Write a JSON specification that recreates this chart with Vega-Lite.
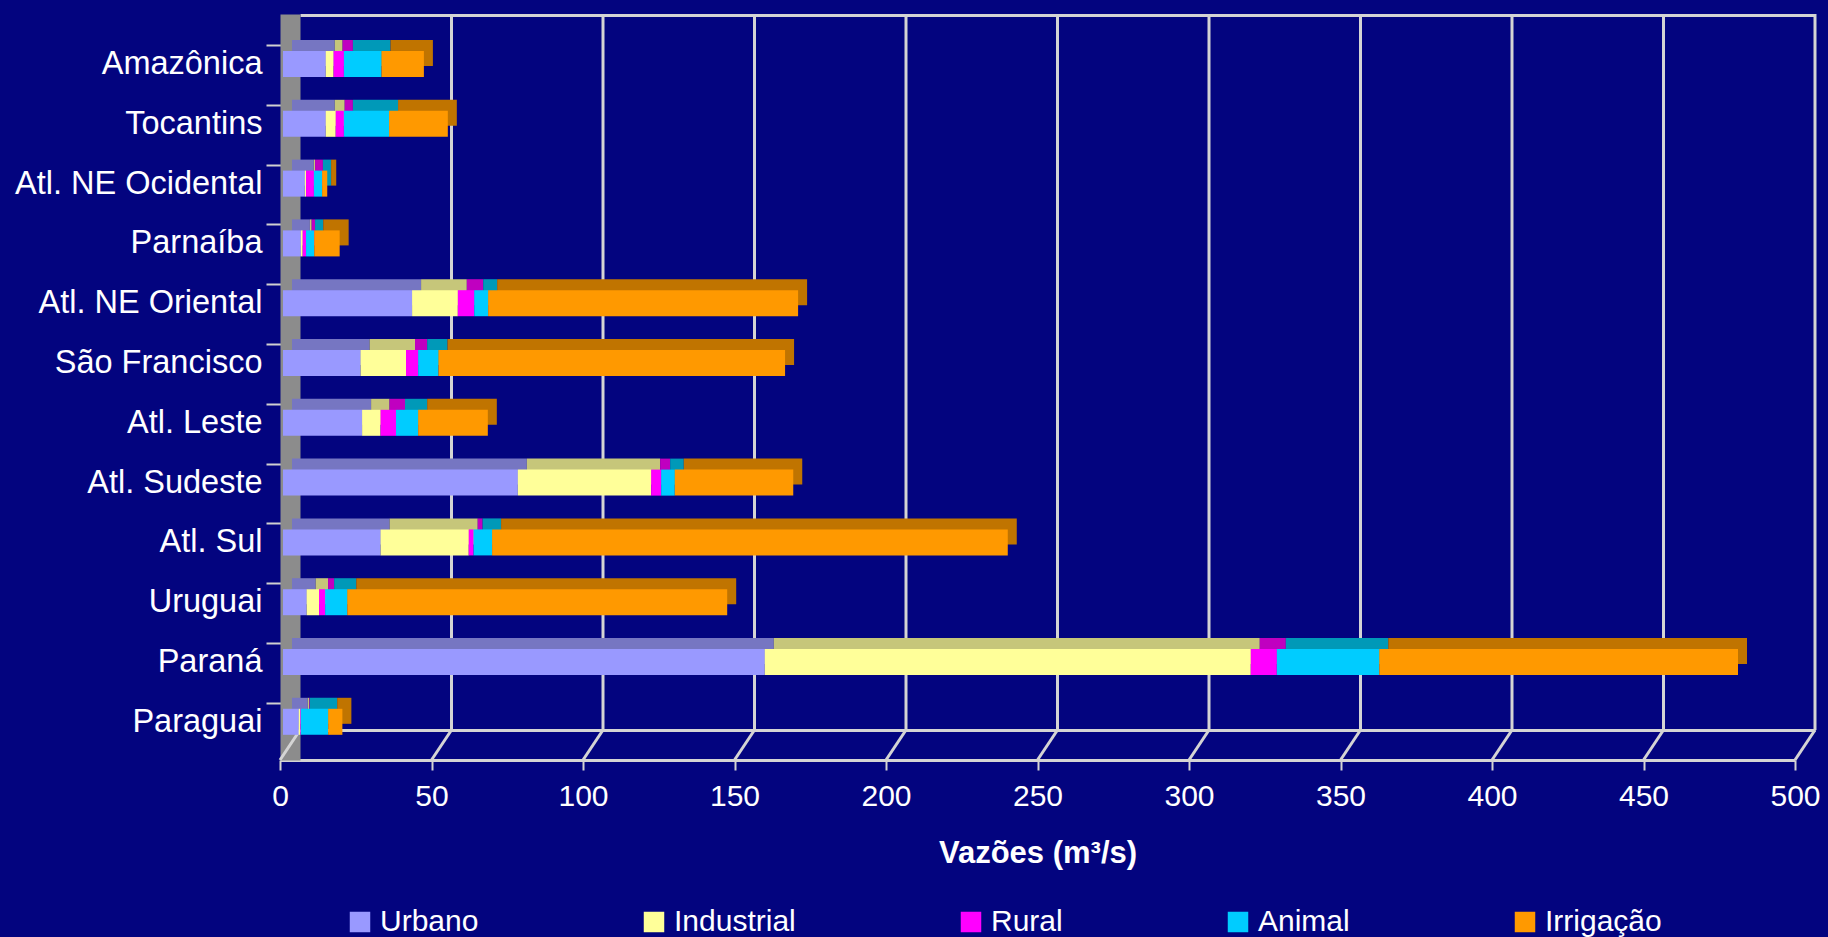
{
  "$schema": "https://vega.github.io/schema/vega-lite/v6.json",
  "width": 1515,
  "height": 746,
  "autosize": {"type": "none"},
  "padding": {"left": 280, "top": 14, "right": 33, "bottom": 177},
  "background": "#03047f",
  "config": {
    "view": {"stroke": null},
    "font": "Liberation Sans"
  },
  "datasets": {
    "grade": [{"v": 0}, {"v": 50}, {"v": 100}, {"v": 150}, {"v": 200}, {"v": 250}, {"v": 300}, {"v": 350}, {"v": 400}, {"v": 450}, {"v": 500}],
    "vazoes": [
      {"bacia": "Amazônica", "uso": "Urbano", "ordem": 1, "vazao": 14.1},
      {"bacia": "Amazônica", "uso": "Industrial", "ordem": 2, "vazao": 2.6},
      {"bacia": "Amazônica", "uso": "Rural", "ordem": 3, "vazao": 3.4},
      {"bacia": "Amazônica", "uso": "Animal", "ordem": 4, "vazao": 12.4},
      {"bacia": "Amazônica", "uso": "Irrigação", "ordem": 5, "vazao": 14.0},
      {"bacia": "Tocantins", "uso": "Urbano", "ordem": 1, "vazao": 14.1},
      {"bacia": "Tocantins", "uso": "Industrial", "ordem": 2, "vazao": 3.3},
      {"bacia": "Tocantins", "uso": "Rural", "ordem": 3, "vazao": 2.7},
      {"bacia": "Tocantins", "uso": "Animal", "ordem": 4, "vazao": 14.9},
      {"bacia": "Tocantins", "uso": "Irrigação", "ordem": 5, "vazao": 19.4},
      {"bacia": "Atl. NE Ocidental", "uso": "Urbano", "ordem": 1, "vazao": 7.2},
      {"bacia": "Atl. NE Ocidental", "uso": "Industrial", "ordem": 2, "vazao": 0.4},
      {"bacia": "Atl. NE Ocidental", "uso": "Rural", "ordem": 3, "vazao": 2.6},
      {"bacia": "Atl. NE Ocidental", "uso": "Animal", "ordem": 4, "vazao": 2.7},
      {"bacia": "Atl. NE Ocidental", "uso": "Irrigação", "ordem": 5, "vazao": 1.7},
      {"bacia": "Parnaíba", "uso": "Urbano", "ordem": 1, "vazao": 5.9},
      {"bacia": "Parnaíba", "uso": "Industrial", "ordem": 2, "vazao": 0.6},
      {"bacia": "Parnaíba", "uso": "Rural", "ordem": 3, "vazao": 1.1},
      {"bacia": "Parnaíba", "uso": "Animal", "ordem": 4, "vazao": 2.7},
      {"bacia": "Parnaíba", "uso": "Irrigação", "ordem": 5, "vazao": 8.4},
      {"bacia": "Atl. NE Oriental", "uso": "Urbano", "ordem": 1, "vazao": 42.6},
      {"bacia": "Atl. NE Oriental", "uso": "Industrial", "ordem": 2, "vazao": 15.1},
      {"bacia": "Atl. NE Oriental", "uso": "Rural", "ordem": 3, "vazao": 5.4},
      {"bacia": "Atl. NE Oriental", "uso": "Animal", "ordem": 4, "vazao": 4.6},
      {"bacia": "Atl. NE Oriental", "uso": "Irrigação", "ordem": 5, "vazao": 102.3},
      {"bacia": "São Francisco", "uso": "Urbano", "ordem": 1, "vazao": 25.6},
      {"bacia": "São Francisco", "uso": "Industrial", "ordem": 2, "vazao": 15.0},
      {"bacia": "São Francisco", "uso": "Rural", "ordem": 3, "vazao": 4.0},
      {"bacia": "São Francisco", "uso": "Animal", "ordem": 4, "vazao": 6.7},
      {"bacia": "São Francisco", "uso": "Irrigação", "ordem": 5, "vazao": 114.4},
      {"bacia": "Atl. Leste", "uso": "Urbano", "ordem": 1, "vazao": 26.1},
      {"bacia": "Atl. Leste", "uso": "Industrial", "ordem": 2, "vazao": 6.1},
      {"bacia": "Atl. Leste", "uso": "Rural", "ordem": 3, "vazao": 5.1},
      {"bacia": "Atl. Leste", "uso": "Animal", "ordem": 4, "vazao": 7.3},
      {"bacia": "Atl. Leste", "uso": "Irrigação", "ordem": 5, "vazao": 23.0},
      {"bacia": "Atl. Sudeste", "uso": "Urbano", "ordem": 1, "vazao": 77.5},
      {"bacia": "Atl. Sudeste", "uso": "Industrial", "ordem": 2, "vazao": 44.0},
      {"bacia": "Atl. Sudeste", "uso": "Rural", "ordem": 3, "vazao": 3.3},
      {"bacia": "Atl. Sudeste", "uso": "Animal", "ordem": 4, "vazao": 4.5},
      {"bacia": "Atl. Sudeste", "uso": "Irrigação", "ordem": 5, "vazao": 39.1},
      {"bacia": "Atl. Sul", "uso": "Urbano", "ordem": 1, "vazao": 32.2},
      {"bacia": "Atl. Sul", "uso": "Industrial", "ordem": 2, "vazao": 29.1},
      {"bacia": "Atl. Sul", "uso": "Rural", "ordem": 3, "vazao": 1.6},
      {"bacia": "Atl. Sul", "uso": "Animal", "ordem": 4, "vazao": 6.1},
      {"bacia": "Atl. Sul", "uso": "Irrigação", "ordem": 5, "vazao": 170.2},
      {"bacia": "Uruguai", "uso": "Urbano", "ordem": 1, "vazao": 7.8},
      {"bacia": "Uruguai", "uso": "Industrial", "ordem": 2, "vazao": 4.1},
      {"bacia": "Uruguai", "uso": "Rural", "ordem": 3, "vazao": 2.0},
      {"bacia": "Uruguai", "uso": "Animal", "ordem": 4, "vazao": 7.3},
      {"bacia": "Uruguai", "uso": "Irrigação", "ordem": 5, "vazao": 125.4},
      {"bacia": "Paraná", "uso": "Urbano", "ordem": 1, "vazao": 159.0},
      {"bacia": "Paraná", "uso": "Industrial", "ordem": 2, "vazao": 160.4},
      {"bacia": "Paraná", "uso": "Rural", "ordem": 3, "vazao": 8.6},
      {"bacia": "Paraná", "uso": "Animal", "ordem": 4, "vazao": 33.8},
      {"bacia": "Paraná", "uso": "Irrigação", "ordem": 5, "vazao": 118.4},
      {"bacia": "Paraguai", "uso": "Urbano", "ordem": 1, "vazao": 5.2},
      {"bacia": "Paraguai", "uso": "Industrial", "ordem": 2, "vazao": 0.5},
      {"bacia": "Paraguai", "uso": "Rural", "ordem": 3, "vazao": 0.2},
      {"bacia": "Paraguai", "uso": "Animal", "ordem": 4, "vazao": 9.0},
      {"bacia": "Paraguai", "uso": "Irrigação", "ordem": 5, "vazao": 4.7}
    ]
  },
  "layer": [
    {
      "data": {"name": "grade"},
      "transform": [{"filter": "datum.v > 0"}],
      "mark": {"type": "rule", "color": "#d4d4d4", "strokeWidth": 3, "xOffset": 20, "y2Offset": -30},
      "encoding": {
        "x": {
          "field": "v",
          "type": "quantitative",
          "scale": {"domain": [0, 500], "nice": false, "zero": true},
          "axis": {
            "orient": "bottom",
            "offset": -30,
            "position": 20,
            "labels": false,
            "ticks": false,
            "grid": false,
            "domain": true,
            "domainColor": "#d4d4d4",
            "domainWidth": 3,
            "title": null
          }
        },
        "y": {"value": 0},
        "y2": {"value": "height"}
      }
    },
    {
      "data": {"name": "grade"},
      "mark": {"type": "rule", "color": "#d4d4d4", "strokeWidth": 3, "xOffset": 20, "x2Offset": 0, "yOffset": -30, "y2Offset": 0},
      "encoding": {
        "x": {"field": "v", "type": "quantitative", "axis": null},
        "x2": {"field": "v"},
        "y": {"value": "height"},
        "y2": {"value": "height"}
      }
    },
    {
      "data": {"name": "vazoes"},
      "mark": {"type": "bar", "xOffset": 12, "x2Offset": 12, "yOffset": -11, "y2Offset": -11},
      "encoding": {
        "y": {
          "field": "bacia",
          "type": "nominal",
          "sort": null,
          "axis": {
            "orient": "left",
            "offset": -10,
            "labels": false,
            "domain": false,
            "grid": false,
            "ticks": true,
            "tickSize": 24,
            "tickColor": "#d0d0d0",
            "tickWidth": 2,
            "bandPosition": 0,
            "tickOffset": -6,
            "title": null
          }
        },
        "x": {
          "field": "vazao",
          "type": "quantitative",
          "stack": "zero",
          "axis": {
            "orient": "top",
            "offset": -1,
            "position": 20,
            "labels": false,
            "ticks": false,
            "grid": false,
            "domain": true,
            "domainColor": "#d4d4d4",
            "domainWidth": 3,
            "title": null
          }
        },
        "fill": {
          "field": "uso",
          "type": "nominal",
          "scale": {
            "domain": ["Animal", "Industrial", "Irrigação", "Rural", "Urbano"],
            "range": ["#0099b8", "#c6c67a", "#c07400", "#c000c0", "#7676c2"]
          },
          "legend": null
        },
        "order": {"field": "ordem", "type": "quantitative"}
      }
    },
    {
      "data": {"name": "vazoes"},
      "mark": {"type": "bar", "xOffset": 3, "x2Offset": 3},
      "encoding": {
        "y": {
          "field": "bacia",
          "type": "nominal",
          "sort": null,
          "scale": {"paddingInner": 0.565, "paddingOuter": 0.52, "align": 0.595},
          "axis": {
            "orient": "left",
            "title": null,
            "labelColor": "#ffffff",
            "labelFontSize": 32.5,
            "labelLimit": 600,
            "labelPadding": 4,
            "domainColor": "#8c8c8c",
            "domainWidth": 20,
            "offset": -10,
            "tickColor": "transparent",
            "tickSize": 24,
            "grid": false
          }
        },
        "x": {
          "field": "vazao",
          "type": "quantitative",
          "stack": "zero",
          "scale": {"domain": [0, 500], "nice": false},
          "axis": {
            "orient": "bottom",
            "values": [0, 50, 100, 150, 200, 250, 300, 350, 400, 450, 500],
            "labelColor": "#ffffff",
            "labelFontSize": 30,
            "labelPadding": 11,
            "labelFlush": false,
            "domainColor": "#d4d4d4",
            "domainWidth": 3,
            "tickColor": "#d4d4d4",
            "tickWidth": 2,
            "tickSize": 10,
            "grid": false,
            "title": "Vazões (m³/s)",
            "titleColor": "#ffffff",
            "titleFontSize": 31,
            "titleFontWeight": "bold",
            "titlePadding": 27
          }
        },
        "color": {
          "field": "uso",
          "type": "nominal",
          "scale": {
            "domain": ["Urbano", "Industrial", "Rural", "Animal", "Irrigação"],
            "range": ["#9999ff", "#ffff99", "#ff00ff", "#00ccff", "#ff9900"]
          },
          "legend": {
            "orient": "none",
            "legendX": 65,
            "legendY": 893,
            "direction": "horizontal",
            "title": null,
            "symbolType": "square",
            "symbolSize": 420,
            "symbolStrokeWidth": 0,
            "labelFontSize": 30,
            "labelColor": "#ffffff",
            "labelOffset": 5,
            "columnPadding": 160
          }
        },
        "order": {"field": "ordem", "type": "quantitative"}
      }
    }
  ],
  "resolve": {"axis": {"x": "independent", "y": "independent"}}
}
